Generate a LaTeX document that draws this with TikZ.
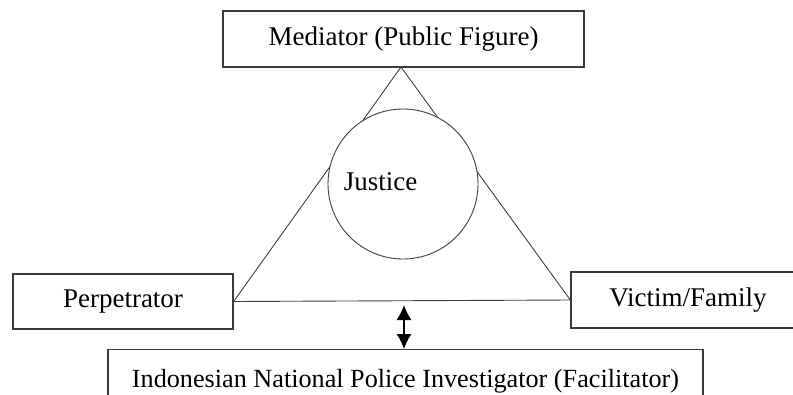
\documentclass[tikz,border=0pt]{standalone}
\usepackage{fontspec}
\setmainfont{Liberation Serif}
\usetikzlibrary{arrows.meta}
\definecolor{boxline}{HTML}{3A3A3A}
\definecolor{triline}{HTML}{404040}
\begin{document}
\begin{tikzpicture}[x=1pt,y=-1pt,
  every node/.style={font=\fontsize{27}{32}\selectfont, text=black},
  box/.style={draw=boxline, line width=1.3pt, fill=white, rectangle, inner sep=0pt},
  tri/.style={draw=triline, line width=0.9pt},
  dblarrow/.style={draw=black, line width=1.2pt, {Latex[length=15pt,width=15pt]}-{Latex[length=15pt,width=15pt]}}]
\useasboundingbox (0,0) rectangle (793,394);
\clip (0,0) rectangle (793,394);
% boxes
\node[box, minimum width=361pt, minimum height=56pt] (med) at (403.5,39) {Mediator (Public Figure)};
\node[box, minimum width=220pt, minimum height=55pt] (perp) at (123,301.5) {Perpetrator};
\node[box, minimum width=234pt, minimum height=56pt] (vict) at (688,300) {Victim/Family};
\node[box, minimum width=595pt, minimum height=70pt, anchor=north, font=\fontsize{26.2}{31}\selectfont] (pol) at (405.5,349) {\raisebox{12pt}{Indonesian National Police Investigator (Facilitator)}};
% triangle
\coordinate (apex) at (401,67);
\draw[tri] (apex) -- (perp.east) -- (vict.west) -- cycle;
% circle
\node[draw=triline, line width=0.9pt, fill=white, circle, minimum size=150pt, inner sep=0pt] (just) at (403,184) {};
\node (justtext) at (380.5,182) {Justice};
% arrow
\coordinate (atop) at (404,305);
\draw[dblarrow] (atop) -- (atop |- pol.north);
\end{tikzpicture}
\end{document}
